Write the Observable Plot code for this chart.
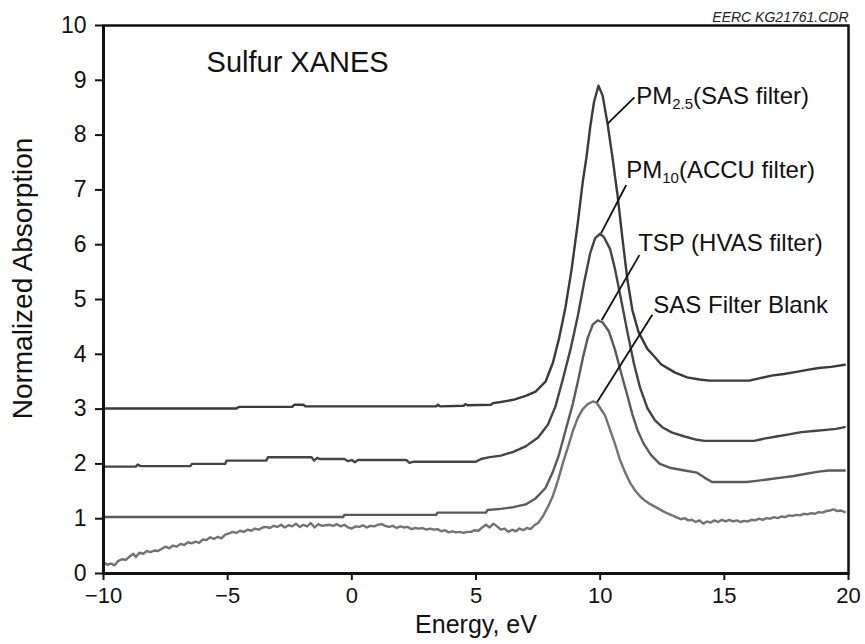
<!DOCTYPE html>
<html><head><meta charset="utf-8">
<script src="https://cdn.jsdelivr.net/npm/d3@7"></script>
<script src="https://cdn.jsdelivr.net/npm/@observablehq/plot@0.6"></script>
<style>body{margin:0;background:#fff}</style>
</head><body><div id="chart"></div>
<script>
// ---- data ----
const energyTicks = [-10, -5, 0, 5, 10, 15, 20];
const absorptionTicks = [0, 1, 2, 3, 4, 5, 6, 7, 8, 9, 10];

const seriesNames = ["PM_{2.5}(SAS filter)", "PM_{10}(ACCU filter)", "TSP (HVAS filter)", "SAS Filter Blank"];

// [energy eV, normalized absorption]
const pm25 = [[-10,3.01],[-4.65,3.01],[-4.55,3.04],[-2.4,3.04],[-2.32,3.08],[-1.95,3.08],[-1.87,3.05],[3.4,3.05],[3.47,3.08],[3.55,3.05],[4.5,3.06],[4.57,3.09],[4.65,3.07],[5.6,3.08],[5.68,3.11],[6.0,3.13],[6.5,3.17],[7.0,3.24],[7.4,3.32],[7.8,3.5],[8.1,3.85],[8.35,4.3],[8.6,4.85],[8.85,5.55],[9.1,6.4],[9.3,7.15],[9.45,7.6],[9.6,8.15],[9.75,8.6],[9.93,8.9],[10.1,8.72],[10.3,8.2],[10.5,7.58],[10.7,6.9],[10.9,6.1],[11.1,5.35],[11.3,4.8],[11.55,4.4],[11.9,4.1],[12.2,3.95],[12.45,3.82],[13.0,3.67],[13.5,3.58],[14.0,3.54],[14.4,3.52],[16.0,3.52],[16.4,3.56],[16.9,3.61],[17.4,3.64],[17.9,3.68],[18.4,3.72],[18.8,3.75],[19.3,3.77],[19.85,3.81]];

const pm10 = [[-10,1.95],[-8.7,1.95],[-8.62,1.99],[-8.52,1.96],[-6.5,1.96],[-6.44,2.0],[-5.1,2.0],[-5.04,2.06],[-3.45,2.06],[-3.38,2.12],[-1.62,2.12],[-1.52,2.06],[-1.4,2.11],[-1.3,2.09],[-0.3,2.09],[-0.15,2.05],[0.0,2.07],[0.12,2.03],[0.25,2.07],[2.2,2.07],[2.32,2.02],[2.5,2.04],[5.0,2.04],[5.2,2.09],[5.5,2.12],[6.0,2.15],[6.5,2.22],[7.0,2.32],[7.5,2.48],[7.9,2.72],[8.2,3.05],[8.5,3.55],[8.8,4.08],[9.1,4.7],[9.35,5.3],[9.6,5.85],[9.8,6.12],[10.0,6.2],[10.15,6.14],[10.4,5.92],[10.6,5.55],[10.85,4.98],[11.1,4.4],[11.35,3.85],[11.6,3.4],[11.9,3.02],[12.2,2.8],[12.5,2.67],[12.9,2.57],[13.4,2.5],[13.9,2.44],[14.2,2.42],[16.2,2.42],[16.6,2.46],[17.1,2.5],[17.6,2.54],[18.1,2.58],[18.6,2.6],[19.1,2.62],[19.5,2.64],[19.85,2.67]];

const tsp = [[-10,1.03],[-0.35,1.03],[-0.3,1.07],[3.4,1.07],[3.45,1.11],[5.4,1.11],[5.47,1.16],[6.0,1.18],[6.5,1.21],[7.0,1.26],[7.4,1.37],[7.8,1.56],[8.1,1.86],[8.35,2.18],[8.6,2.6],[8.9,3.1],[9.1,3.5],[9.3,3.93],[9.5,4.3],[9.7,4.54],[9.9,4.62],[10.1,4.58],[10.35,4.42],[10.6,4.08],[10.85,3.65],[11.1,3.24],[11.3,2.9],[11.5,2.62],[11.75,2.37],[12.05,2.16],[12.4,2.0],[12.8,1.93],[13.4,1.88],[13.9,1.84],[14.2,1.75],[14.5,1.67],[15.9,1.67],[16.3,1.69],[16.8,1.72],[17.3,1.75],[17.8,1.78],[18.3,1.82],[18.8,1.86],[19.2,1.88],[19.85,1.88]];

const blank = [[-10.0,0.21],[-9.85,0.16],[-9.7,0.18],[-9.55,0.15],[-9.4,0.23],[-9.25,0.26],[-9.1,0.25],[-8.95,0.31],[-8.8,0.36],[-8.7,0.30],[-8.55,0.38],[-8.4,0.36],[-8.25,0.41],[-8.1,0.39],[-7.95,0.42],[-7.8,0.41],[-7.65,0.45],[-7.5,0.49],[-7.35,0.46],[-7.2,0.51],[-7.05,0.49],[-6.9,0.54],[-6.75,0.52],[-6.6,0.57],[-6.45,0.55],[-6.3,0.58],[-6.15,0.56],[-6.0,0.62],[-5.85,0.61],[-5.7,0.66],[-5.55,0.63],[-5.4,0.67],[-5.25,0.64],[-5.1,0.71],[-4.95,0.73],[-4.8,0.76],[-4.65,0.74],[-4.5,0.78],[-4.35,0.76],[-4.2,0.80],[-4.05,0.78],[-3.9,0.82],[-3.75,0.80],[-3.6,0.84],[-3.45,0.85],[-3.3,0.83],[-3.15,0.87],[-3.0,0.85],[-2.85,0.89],[-2.7,0.84],[-2.55,0.88],[-2.4,0.86],[-2.25,0.91],[-2.1,0.85],[-1.95,0.89],[-1.8,0.86],[-1.65,0.92],[-1.5,0.84],[-1.35,0.90],[-1.2,0.87],[-1.05,0.88],[-0.9,0.89],[-0.75,0.87],[-0.6,0.90],[-0.45,0.86],[-0.3,0.89],[-0.15,0.84],[0.0,0.82],[0.15,0.86],[0.3,0.85],[0.45,0.88],[0.6,0.84],[0.75,0.87],[0.9,0.86],[1.05,0.89],[1.2,0.90],[1.35,0.87],[1.5,0.85],[1.65,0.87],[1.8,0.83],[1.95,0.86],[2.1,0.84],[2.25,0.85],[2.4,0.81],[2.55,0.83],[2.7,0.82],[2.85,0.83],[3.0,0.80],[3.15,0.82],[3.3,0.80],[3.45,0.81],[3.6,0.77],[3.75,0.79],[3.9,0.75],[4.05,0.77],[4.2,0.75],[4.35,0.76],[4.5,0.74],[4.65,0.76],[4.8,0.76],[4.95,0.79],[5.1,0.78],[5.25,0.84],[5.4,0.89],[5.55,0.84],[5.7,0.91],[5.85,0.86],[6.0,0.80],[6.15,0.82],[6.3,0.76],[6.45,0.80],[6.6,0.77],[6.75,0.82],[6.9,0.79],[7.05,0.83],[7.2,0.81],[7.35,0.88],[7.5,0.92],[7.7,1.05],[7.9,1.22],[8.1,1.42],[8.3,1.7],[8.5,2.02],[8.7,2.3],[8.9,2.6],[9.1,2.84],[9.3,3.0],[9.5,3.09],[9.7,3.14],[9.85,3.12],[10.0,3.02],[10.2,2.88],[10.4,2.62],[10.6,2.36],[10.8,2.07],[11.0,1.85],[11.2,1.66],[11.4,1.52],[11.6,1.41],[11.8,1.33],[12.0,1.27],[12.2,1.22],[12.4,1.17],[12.6,1.12],[12.8,1.08],[12.95,1.05],[13.1,1.02],[13.25,0.99],[13.4,1.01],[13.55,0.97],[13.7,0.98],[13.85,0.94],[14.0,0.97],[14.15,0.91],[14.3,0.95],[14.45,0.93],[14.6,0.97],[14.75,0.94],[14.9,0.98],[15.05,0.95],[15.2,0.98],[15.35,0.95],[15.5,0.97],[15.65,0.94],[15.8,0.96],[15.95,0.95],[16.1,0.98],[16.25,0.97],[16.4,1.00],[16.55,0.98],[16.7,1.01],[16.85,1.00],[17.0,1.03],[17.15,1.01],[17.3,1.04],[17.45,1.03],[17.6,1.06],[17.75,1.05],[17.9,1.07],[18.05,1.06],[18.2,1.09],[18.35,1.08],[18.5,1.10],[18.65,1.09],[18.8,1.12],[18.95,1.11],[19.1,1.14],[19.25,1.15],[19.4,1.17],[19.55,1.14],[19.7,1.15],[19.85,1.12]];

// annotation anchors (energy, absorption) and leader lines
const labelEnergy = [11.45, 11.05, 11.53, 12.14];
const labelAbsorption = [8.70, 7.35, 6.03, 4.90];
const leaderFrom = [[10.3, 8.21], [10.04, 6.21], [10.06, 4.62], [9.88, 3.13]];
const leaderTo = [[11.38, 8.69], [11.05, 7.09], [11.58, 5.81], [12.1, 4.72]];

const title = "Sulfur XANES";
const titlePos = [-5.85, 9.32];
const xLabel = "Energy, eV";
const yLabel = "Normalized Absorption";
const fileTag = "EERC KG21761.CDR";

// ---- build tables ----
const toRows = (arr) => arr.map(([e, a]) => ({e, a}));
const labels = seriesNames.map((name, i) => ({name, e: labelEnergy[i], a: labelAbsorption[i]}));
const leaders = leaderFrom.map((f, i) => ({x1: f[0], y1: f[1], x2: leaderTo[i][0], y2: leaderTo[i][1]}));

const font = "'Liberation Sans', Arial, Helvetica, sans-serif";

const chart = Plot.plot({
  width: 865,
  height: 644,
  marginLeft: 103,
  marginRight: 17,
  marginTop: 25,
  marginBottom: 71,
  style: {fontFamily: font, background: "#fff", color: "#111"},
  x: {domain: [-10, 20]},
  y: {domain: [0, 10]},
  marks: [
    Plot.line(toRows(blank), {x: "e", y: "a", stroke: "#727272", strokeWidth: 2.4, strokeLinejoin: "round"}),
    Plot.line(toRows(tsp), {x: "e", y: "a", stroke: "#5a5a5a", strokeWidth: 2.4, strokeLinejoin: "round"}),
    Plot.line(toRows(pm10), {x: "e", y: "a", stroke: "#444", strokeWidth: 2.4, strokeLinejoin: "round"}),
    Plot.line(toRows(pm25), {x: "e", y: "a", stroke: "#3a3a3a", strokeWidth: 2.4, strokeLinejoin: "round"}),
    Plot.link(leaders, {x1: "x1", y1: "y1", x2: "x2", y2: "y2", stroke: "#111", strokeWidth: 1.8}),
    Plot.text(labels, {x: "e", y: "a", text: "name", textAnchor: "start", lineAnchor: "middle", fontSize: 24, fill: "#111"}),
    Plot.text([title], {x: () => titlePos[0], y: () => titlePos[1], text: d => d, textAnchor: "start", lineAnchor: "middle", fontSize: 29, fill: "#111"}),
    Plot.axisX({ticks: energyTicks, tickSize: 7, tickPadding: 7, fontSize: 22, label: null, strokeWidth: 2}),
    Plot.axisY({ticks: absorptionTicks, tickSize: 8, tickPadding: 9, fontSize: 23, label: null, strokeWidth: 2}),
    Plot.text([xLabel], {frameAnchor: "bottom", textAnchor: "middle", lineAnchor: "middle", dy: 51, fontSize: 25, fill: "#111"}),
    Plot.text([yLabel], {frameAnchor: "left", textAnchor: "middle", lineAnchor: "middle", rotate: -90, dx: -80, dy: -21, fontSize: 28, fill: "#111"}),
    Plot.text([fileTag], {frameAnchor: "top-right", textAnchor: "end", lineAnchor: "middle", dy: -8, fontSize: 14, fontStyle: "italic", fill: "#222"}),
    Plot.frame({stroke: "#111", strokeWidth: 2.5}),
    Plot.ruleX([-10], {stroke: "#111", strokeWidth: 3}),
    Plot.ruleY([0], {stroke: "#111", strokeWidth: 3})
  ]
});

// subscripts: "PM_{2.5}(...)" -> tspans
chart.querySelectorAll("text").forEach(t => {
  const m = /^(.*?)_\{(.*?)\}(.*)$/.exec(t.textContent);
  if (!m) return;
  t.textContent = "";
  const ns = "http://www.w3.org/2000/svg";
  const a = document.createElementNS(ns, "tspan"); a.textContent = m[1];
  const b = document.createElementNS(ns, "tspan"); b.textContent = m[2];
  b.setAttribute("font-size", "15"); b.setAttribute("dy", "5");
  const c = document.createElementNS(ns, "tspan"); c.textContent = m[3];
  c.setAttribute("dy", "-5");
  t.append(a, b, c);
});

document.getElementById("chart").append(chart);
</script></body></html>
